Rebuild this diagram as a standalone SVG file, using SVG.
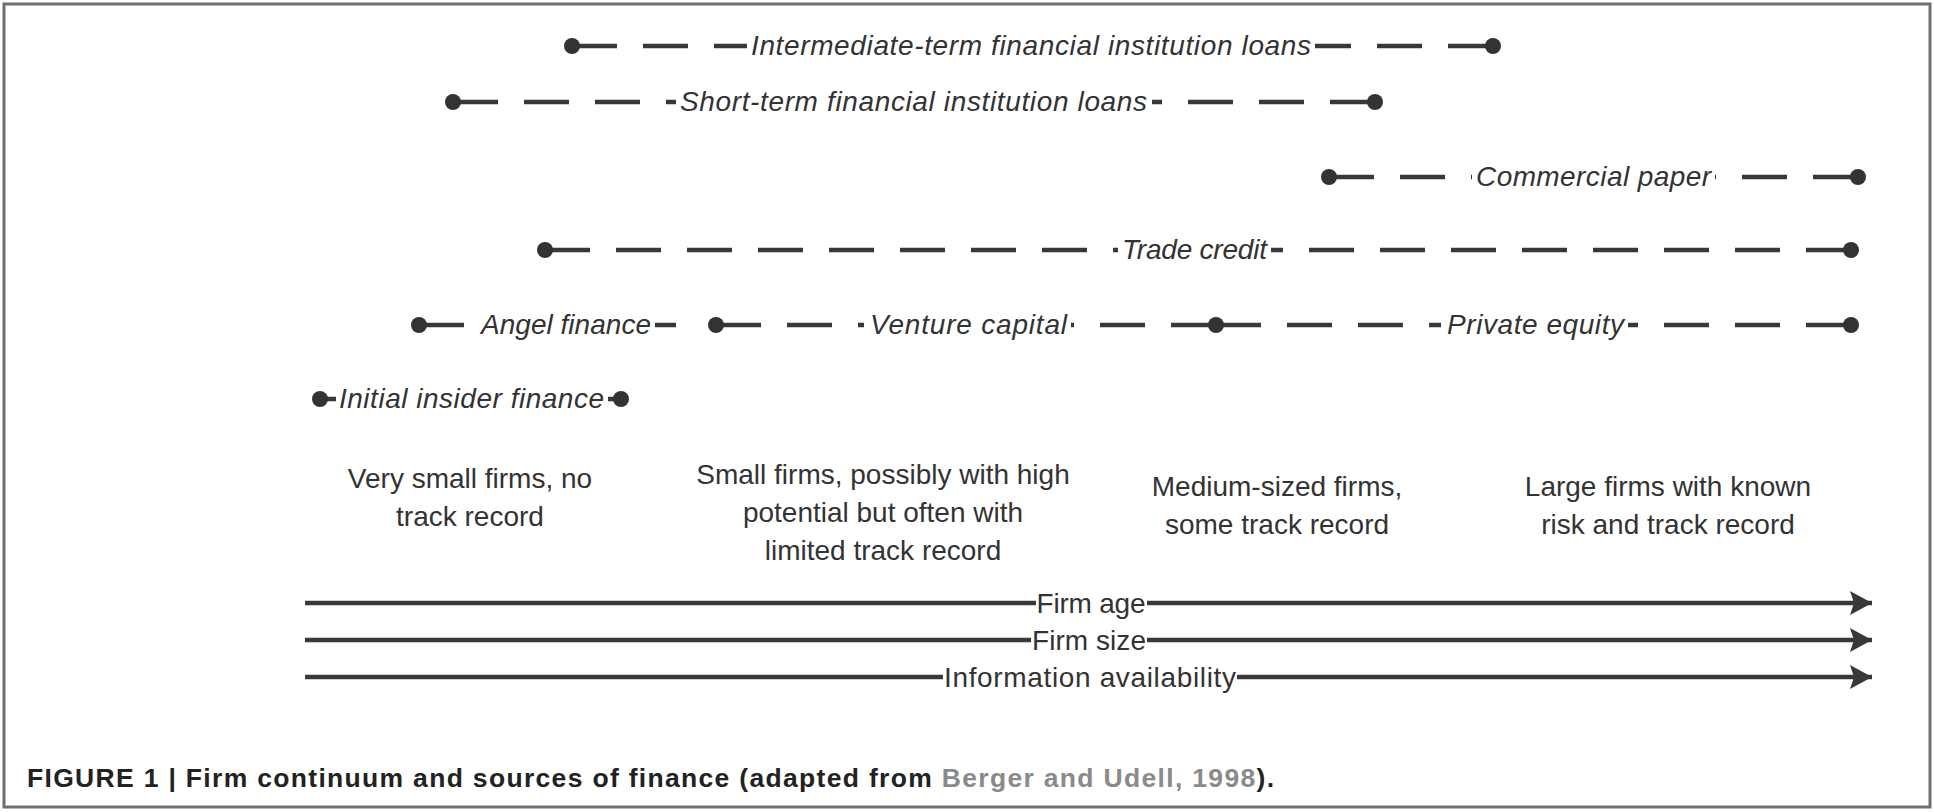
<svg xmlns="http://www.w3.org/2000/svg" width="1934" height="812" viewBox="0 0 1934 812">
<defs>
<style>
.frame{fill:#fff;stroke:#707070;stroke-width:3}
.dash{fill:none;stroke:#383838;stroke-width:4.5;stroke-dasharray:45 26}
.solid{fill:none;stroke:#383838;stroke-width:4.5}
.dot{fill:#333}
.bg{fill:#fff}
.it{font-family:"Liberation Sans",Arial,sans-serif;font-style:italic;font-size:28px;fill:#333}
.desc{font-family:"Liberation Sans",Arial,sans-serif;font-size:28px;fill:#333;text-anchor:middle}
.axl{font-family:"Liberation Sans",Arial,sans-serif;font-size:28px;fill:#333;text-anchor:middle}
.axis{fill:none;stroke:#383838;stroke-width:4.5}
.cap{font-family:"Liberation Sans",Arial,sans-serif;font-weight:bold;font-size:26.5px;fill:#222}
.ref{fill:#8a8a8a}
</style>
<marker id="arr" markerUnits="userSpaceOnUse" markerWidth="24" markerHeight="26" refX="22" refY="12" orient="auto">
<path d="M0,0 L22,12 L0,24 L4,12 Z" fill="#383838"/>
</marker>
</defs>
<rect class="frame" x="4" y="4" width="1926" height="803"/>

<g id="connectors">
<path class="dash" d="M572,46 H1031"/><path class="dash" d="M1493,46 H1031"/>
<path class="dash" d="M453,102 H913"/><path class="dash" d="M1375,102 H913"/>
<path class="dash" d="M1329,177 H1594"/><path class="dash" d="M1858,177 H1594"/>
<path class="dash" d="M545,250 H1195"/><path class="dash" d="M1851,250 H1195"/>
<path class="dash" d="M419,325 H566"/><path class="dash" d="M676,325 H566"/>
<path class="dash" d="M716,325 H968"/><path class="dash" d="M1216,325 H968"/>
<path class="dash" d="M1216,325 H1535"/><path class="dash" d="M1851,325 H1535"/>
<path class="solid" d="M320,399 H621"/>
<path class="axis" d="M305,603 H1872" marker-end="url(#arr)"/>
<path class="axis" d="M305,640 H1872" marker-end="url(#arr)"/>
<path class="axis" d="M305,677 H1872" marker-end="url(#arr)"/>
</g>

<g id="intermediate">
<circle class="dot" cx="572" cy="46" r="8"/><circle class="dot" cx="1493" cy="46" r="8"/>
<rect class="bg" x="747" y="38" width="568" height="16"/>
<text class="it" x="751" y="55" textLength="560">Intermediate-term financial institution loans</text>
</g>
<g id="shortterm">
<circle class="dot" cx="453" cy="102" r="8"/><circle class="dot" cx="1375" cy="102" r="8"/>
<rect class="bg" x="676" y="94" width="476" height="16"/>
<text class="it" x="680" y="111" textLength="467">Short-term financial institution loans</text>
</g>
<g id="commercial">
<circle class="dot" cx="1329" cy="177" r="8"/><circle class="dot" cx="1858" cy="177" r="8"/>
<rect class="bg" x="1472" y="169" width="243" height="16"/>
<text class="it" x="1476" y="186" textLength="235">Commercial paper</text>
</g>
<g id="trade">
<circle class="dot" cx="545" cy="250" r="8"/><circle class="dot" cx="1851" cy="250" r="8"/>
<rect class="bg" x="1118" y="242" width="153" height="16"/>
<text class="it" x="1122" y="259" textLength="145">Trade credit</text>
</g>
<g id="angel">
<circle class="dot" cx="419" cy="325" r="8"/>
<rect class="bg" x="470" y="317" width="185" height="16"/>
<text class="it" x="481" y="334" textLength="170">Angel finance</text>
</g>
<g id="venture">
<circle class="dot" cx="716" cy="325" r="8"/>
<rect class="bg" x="864" y="317" width="207" height="16"/>
<text class="it" x="870" y="334" textLength="197">Venture capital</text>
</g>
<g id="private">
<circle class="dot" cx="1216" cy="325" r="8"/><circle class="dot" cx="1851" cy="325" r="8"/>
<rect class="bg" x="1441" y="317" width="187" height="16"/>
<text class="it" x="1447" y="334" textLength="177">Private equity</text>
</g>
<g id="initial">
<circle class="dot" cx="320" cy="399" r="8"/><circle class="dot" cx="621" cy="399" r="8"/>
<rect class="bg" x="336" y="391" width="272" height="16"/>
<text class="it" x="339" y="408" textLength="265">Initial insider finance</text>
</g>

<g id="verysmall">
<text class="desc" x="470" y="488">Very small firms, no</text>
<text class="desc" x="470" y="526">track record</text>
</g>
<g id="small">
<text class="desc" x="883" y="484">Small firms, possibly with high</text>
<text class="desc" x="883" y="522">potential but often with</text>
<text class="desc" x="883" y="560">limited track record</text>
</g>
<g id="medium">
<text class="desc" x="1277" y="496">Medium-sized firms,</text>
<text class="desc" x="1277" y="534">some track record</text>
</g>
<g id="large">
<text class="desc" x="1668" y="496">Large firms with known</text>
<text class="desc" x="1668" y="534">risk and track record</text>
</g>

<g id="axis-age">
<rect class="bg" x="1036" y="596" width="111" height="14"/>
<text class="axl" x="1091" y="613" textLength="109">Firm age</text>
</g>
<g id="axis-size">
<rect class="bg" x="1031" y="633" width="116" height="14"/>
<text class="axl" x="1089" y="650" textLength="114">Firm size</text>
</g>
<g id="axis-info">
<rect class="bg" x="943" y="670" width="294" height="14"/>
<text class="axl" x="1090" y="687" textLength="292">Information availability</text>
</g>

<g id="caption">
<text class="cap" x="27" y="787" textLength="1247">FIGURE 1 | Firm continuum and sources of finance (adapted from <tspan class="ref">Berger and Udell, 1998</tspan>).</text>
</g>
</svg>
